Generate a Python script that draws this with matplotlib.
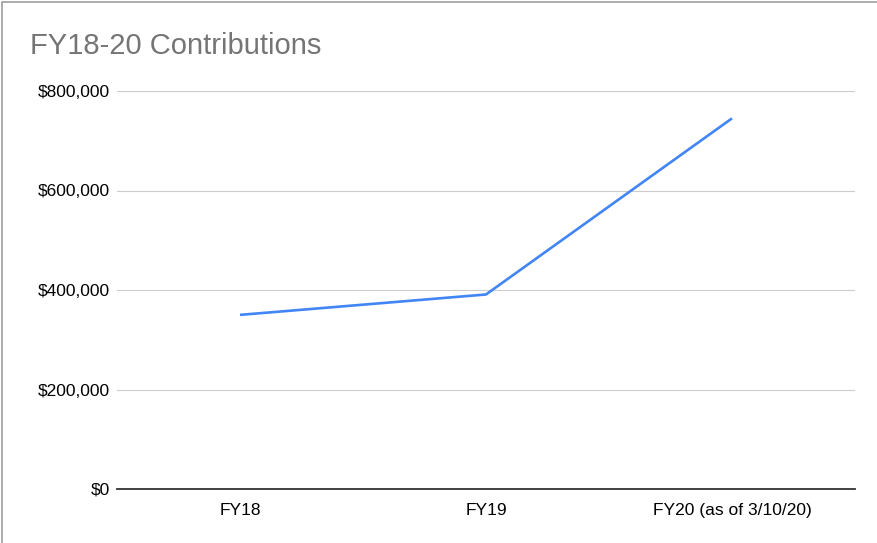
import matplotlib
matplotlib.use("Agg")
import matplotlib.pyplot as plt
from matplotlib.patches import Rectangle
from matplotlib.ticker import FuncFormatter

categories = ["FY18", "FY19", "FY20 (as of 3/10/20)"]
contributions = [350000, 391000, 745000]
yticks = [0, 200000, 400000, 600000, 800000]

plt.rcParams['font.family'] = ['Liberation Sans', 'DejaVu Sans']

W, H = 878, 543
fig = plt.figure(figsize=(W / 100, H / 100), dpi=100)
ax = fig.add_axes([117 / W, (H - 489) / H, (855 - 117) / W, (489 - 91) / H])

x = list(range(len(categories)))
ax.plot(x, contributions, color="#4285F4", linewidth=1.9, solid_capstyle="butt", zorder=3)

ax.set_xlim(-0.5, len(categories) - 0.5)
ax.set_ylim(0, 800000)
ax.set_yticks(yticks)
ax.yaxis.set_major_formatter(FuncFormatter(lambda v, p: "${:,.0f}".format(v)))
ax.set_xticks(x)
ax.set_xticklabels(categories)

ax.grid(axis="y", color="#cccccc", linewidth=0.8, zorder=0)
ax.grid(axis="x", visible=False)
for s in ["top", "right", "left"]:
    ax.spines[s].set_visible(False)
ax.spines["bottom"].set_color("#333333")
ax.spines["bottom"].set_linewidth(1.3)
ax.spines["bottom"].set_zorder(4)

ax.tick_params(axis="y", length=0, pad=5, labelsize=12.5, labelcolor="#000000")
ax.tick_params(axis="x", length=0, pad=10, labelsize=12.5, labelcolor="#000000")

fig.text(30 / W, 1 - 46 / H, "FY18-20 Contributions", fontsize=21, color="#757575",
         ha="left", va="center")

# outer border
fig.patches.append(Rectangle((2 / W, -0.1), 1.2, 1 - 2 / H + 0.1, transform=fig.transFigure,
                             fill=False, edgecolor="#9e9e9e", linewidth=1.2))

fig.savefig("out.png", dpi=100, facecolor="white")
